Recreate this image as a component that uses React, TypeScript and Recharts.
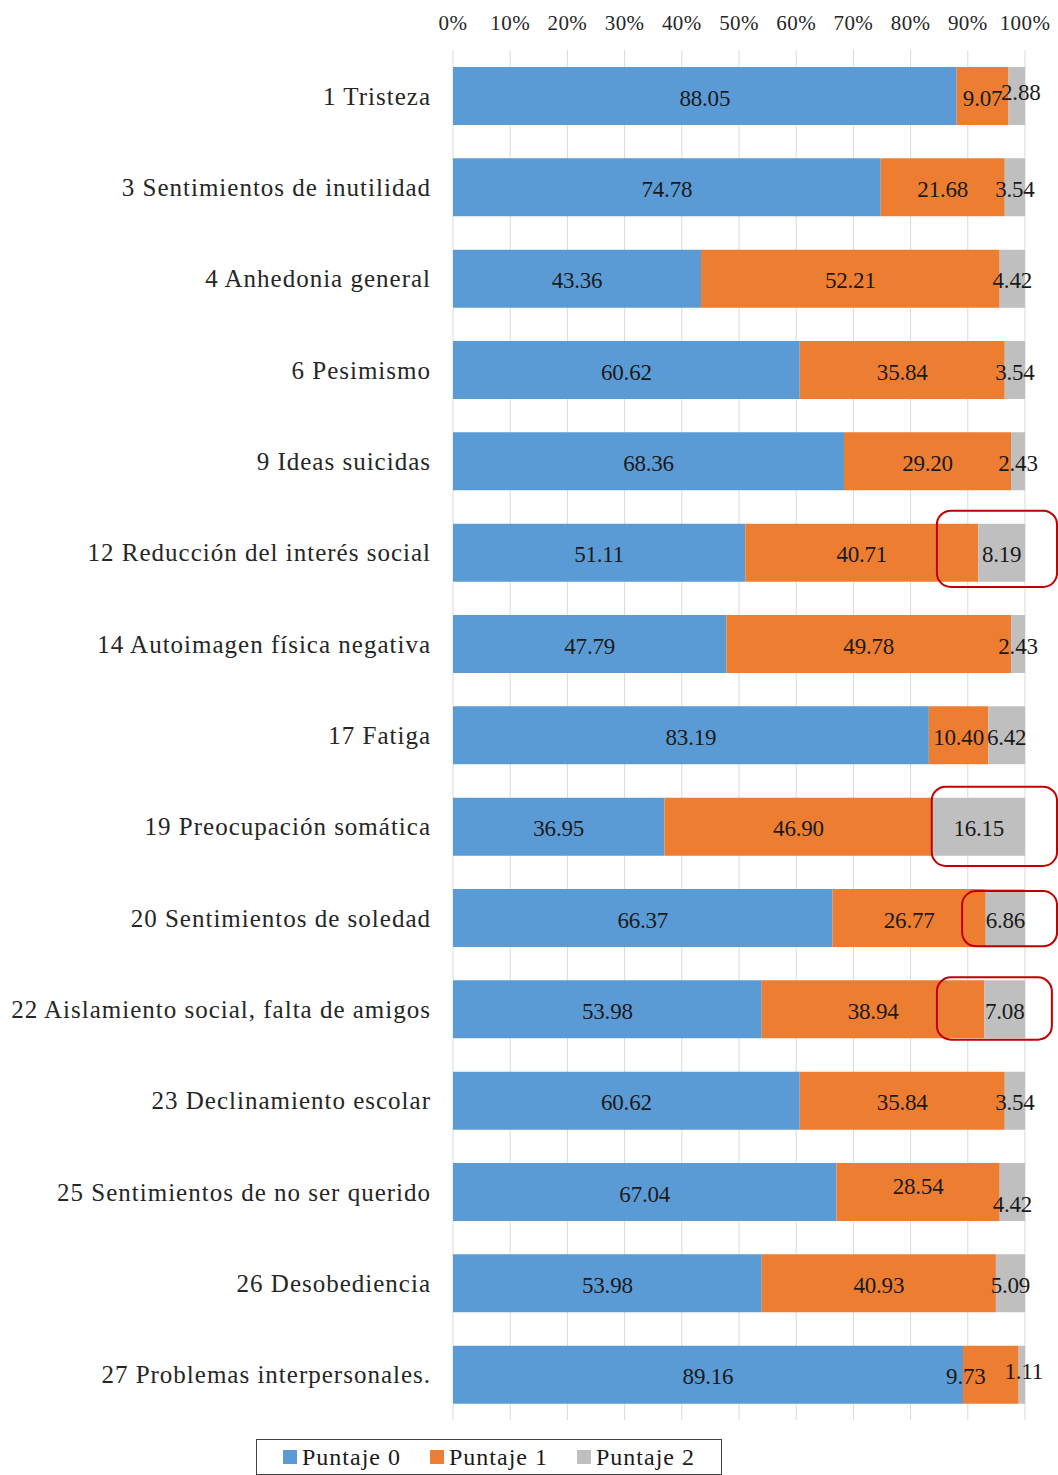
import React from 'react';
import {
  BarChart,
  Bar,
  XAxis,
  YAxis,
  CartesianGrid,
  Legend,
  LabelList,
  ReferenceArea,
} from 'recharts';

const items = [
  '1 Tristeza',
  '3 Sentimientos de inutilidad',
  '4 Anhedonia general',
  '6 Pesimismo',
  '9 Ideas suicidas',
  '12 Reducción del interés social',
  '14 Autoimagen física negativa',
  '17 Fatiga',
  '19 Preocupación somática',
  '20 Sentimientos de soledad',
  '22 Aislamiento social, falta de amigos',
  '23 Declinamiento escolar',
  '25 Sentimientos de no ser querido',
  '26 Desobediencia',
  '27 Problemas interpersonales.',
];

const puntaje0 = [88.05, 74.78, 43.36, 60.62, 68.36, 51.11, 47.79, 83.19, 36.95, 66.37, 53.98, 60.62, 67.04, 53.98, 89.16];
const puntaje1 = [9.07, 21.68, 52.21, 35.84, 29.2, 40.71, 49.78, 10.4, 46.9, 26.77, 38.94, 35.84, 28.54, 40.93, 9.73];
const puntaje2 = [2.88, 3.54, 4.42, 3.54, 2.43, 8.19, 2.43, 6.42, 16.15, 6.86, 7.08, 3.54, 4.42, 5.09, 1.11];

const xTicks = [0, 10, 20, 30, 40, 50, 60, 70, 80, 90, 100];

// rows circled in red in the original figure
const highlights = [
  { item: '12 Reducción del interés social', from: 84.6, to: 105.6, top: 4, bottom: 11 },
  { item: '19 Preocupación somática', from: 83.7, to: 105.6, top: 6, bottom: 6 },
  { item: '20 Sentimientos de soledad', from: 89, to: 105.6, top: 19, bottom: 17 },
  { item: '22 Aislamiento social, falta de amigos', from: 84.6, to: 104.7, top: 14, bottom: 15 },
];

const series = [
  { key: 'p0', name: 'Puntaje 0', color: '#5b9bd5' },
  { key: 'p1', name: 'Puntaje 1', color: '#ed7d31' },
  { key: 'p2', name: 'Puntaje 2', color: '#bfbfbf' },
];

const data = items.map((name, i) => ({
  name,
  p0: puntaje0[i],
  p1: puntaje1[i],
  p2: puntaje2[i],
}));

const FONT = 'Liberation Serif, Times New Roman, serif';

// small hand nudges for labels that collide in the original
const nudges: Record<string, { dx?: number; dy?: number }> = {
  'p2-0': { dx: 4, dy: -6 },
  'p1-12': { dy: -8 },
  'p2-12': { dy: 10 },
  'p1-14': { dx: -25 },
  'p2-14': { dx: 2, dy: -5 },
};

function makeLabel(key: string) {
  return (props: any) => {
    const { x, y, width, height, value, index } = props;
    const n = nudges[`${key}-${index}`] || {};
    return (
      <text
        x={x + width / 2 + (n.dx || 0)}
        y={y + height / 2 + 2 + (n.dy || 0)}
        textAnchor="middle"
        dominantBaseline="central"
        fontFamily={FONT}
        fontSize={23}
        letterSpacing={-0.2}
        fill="#1a1a1a"
      >
        {Number(value).toFixed(2)}
      </text>
    );
  };
}

function LegendBox() {
  return (
    <div
      style={{
        boxSizing: 'border-box',
        height: 36,
        width: 466,
        border: '1px solid #404040',
        display: 'flex',
        alignItems: 'center',
        justifyContent: 'center',
        gap: 29,
        fontFamily: FONT,
        fontSize: 24,
        letterSpacing: 1,
        color: '#1a1a1a',
      }}
    >
      {series.map((s) => (
        <span key={s.key} style={{ display: 'flex', alignItems: 'center' }}>
          <span style={{ width: 14, height: 14, background: s.color, marginRight: 5, display: 'inline-block' }} />
          {s.name}
        </span>
      ))}
    </div>
  );
}

export default function App() {
  return (
    <div style={{ position: 'absolute', left: 0, top: 0, background: '#fff' }}>
      <BarChart
        width={1058}
        height={1475}
        data={data}
        layout="vertical"
        barSize={58}
        margin={{ top: 0, right: 33, left: 0, bottom: 19 }}
      >
        <CartesianGrid horizontal={false} stroke="#d9d9d9" />
        <XAxis
          type="number"
          orientation="top"
          domain={[0, 100]}
          allowDataOverflow
          ticks={xTicks}
          tickFormatter={(v) => `${v}%`}
          height={50}
          tickLine={false}
          axisLine={false}
          tickSize={0}
          tickMargin={20}
          interval={0}
          tick={{ fontFamily: FONT, fontSize: 21, fill: '#262626', letterSpacing: 0.4 }}
        />
        <YAxis
          type="category"
          dataKey="name"
          width={453}
          tickLine={false}
          axisLine={false}
          tickSize={0}
          tickMargin={22}
          interval={0}
          tick={{ fontFamily: FONT, fontSize: 25, fill: '#262626', letterSpacing: 1 }}
        />
        <Legend verticalAlign="bottom" wrapperStyle={{ left: 256, bottom: 0, width: 466 }} content={() => <LegendBox />} />
        {series.map((s) => (
          <Bar key={s.key} dataKey={s.key} name={s.name} stackId="a" fill={s.color} isAnimationActive={false}>
            <LabelList dataKey={s.key} content={makeLabel(s.key)} />
          </Bar>
        ))}
        {highlights.map((h) => (
          <ReferenceArea
            key={h.item}
            x1={h.from}
            x2={h.to}
            y1={h.item}
            y2={h.item}
            ifOverflow="visible"
            zIndex={2000}
            shape={(p: any) => (
              <rect
                x={p.x}
                y={p.y + h.top}
                width={p.width}
                height={p.height - h.top - h.bottom}
                rx={14}
                ry={14}
                fill="none"
                stroke="#c00000"
                strokeWidth={2}
              />
            )}
          />
        ))}
      </BarChart>
    </div>
  );
}
